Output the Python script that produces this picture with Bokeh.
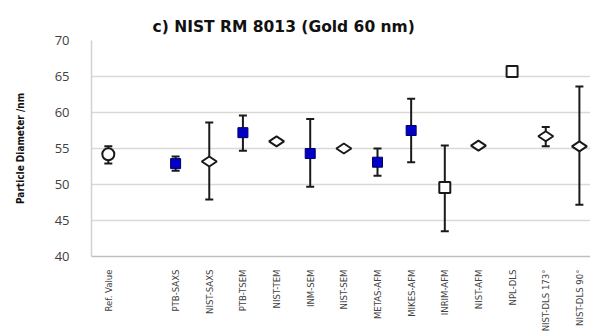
import math
from bokeh.plotting import figure
from bokeh.models import ColumnDataSource, Whisker, TeeHead, FixedTicker, Range1d
from bokeh.embed import file_html
from bokeh.resources import INLINE

categories = ["Ref. Value", "", "PTB-SAXS", "NIST-SAXS", "PTB-TSEM", "NIST-TEM", "INM-SEM",
              "NIST-SEM", "METAS-AFM", "MIKES-AFM", "INRIM-AFM", "NIST-AFM", "NPL-DLS",
              "NIST-DLS 173°", "NIST-DLS 90°"]
values = [54.2, None, 52.9, 53.2, 57.2, 56.0, 54.3, 55.0, 53.1, 57.5, 49.6, 55.4, 65.7, 56.7, 55.3]
lower = [52.9, None, 51.9, 47.9, 54.7, None, 49.7, None, 51.2, 53.1, 43.5, None, None, 55.3, 47.2]
upper = [55.3, None, 53.9, 58.6, 59.6, None, 59.1, None, 55.0, 61.9, 55.4, None, None, 58.0, 63.6]

ref_series = ["Ref. Value"]
blue_square_series = ["PTB-SAXS", "PTB-TSEM", "INM-SEM", "METAS-AFM", "MIKES-AFM"]
diamond_series = ["NIST-SAXS", "NIST-TEM", "NIST-SEM", "NIST-AFM", "NIST-DLS 173°", "NIST-DLS 90°"]
open_square_series = ["INRIM-AFM", "NPL-DLS"]

y_ticks = [40, 45, 50, 55, 60, 65, 70]

def pts(names):
    xs, ys = [], []
    for n in names:
        i = categories.index(n)
        xs.append(i)
        ys.append(values[i])
    return dict(x=xs, y=ys)

NARROW = "DejaVu Sans Condensed"

p = figure(width=590, height=332, frame_width=499, frame_height=216,
           output_backend="svg", toolbar_location=None,
           x_range=Range1d(-0.5, 14.33), y_range=Range1d(40, 70),
           min_border_left=91, min_border_right=0, min_border_top=40, min_border_bottom=76)

p.title.text = "c) NIST RM 8013 (Gold 60 nm)"
p.title.text_font = "DejaVu Sans"
p.title.text_font_style = "bold"
p.title.text_font_size = "15.5px"
p.title.align = "left"
p.title.offset = 61
p.title.text_color = "#111111"

p.outline_line_color = None
p.background_fill_color = "white"
p.border_fill_color = "white"

# error bars
ex, el, eu = [], [], []
for i, (lo, up) in enumerate(zip(lower, upper)):
    if lo is not None and up is not None:
        ex.append(i); el.append(lo); eu.append(up)
esrc = ColumnDataSource(dict(x=ex, lower=el, upper=eu))
w = Whisker(base="x", lower="lower", upper="upper", source=esrc,
            line_color="#1a1a1a", line_width=2,
            upper_head=TeeHead(size=8, line_color="#1a1a1a", line_width=2),
            lower_head=TeeHead(size=8, line_color="#1a1a1a", line_width=2))
p.add_layout(w)

p.scatter("x", "y", source=ColumnDataSource(pts(ref_series)), marker="circle", size=12,
          fill_color="white", line_color="#1a1a1a", line_width=2)
p.scatter("x", "y", source=ColumnDataSource(pts(blue_square_series)), marker="square", size=10,
          fill_color="#0000c8", line_color="#000060", line_width=1)
p.scatter("x", "y", source=ColumnDataSource(pts(diamond_series)), marker="diamond", size=15,
          angle=math.pi / 2, fill_color="white", line_color="#1a1a1a", line_width=2)
p.scatter("x", "y", source=ColumnDataSource(pts(open_square_series)), marker="square", size=11,
          fill_color="white", line_color="#1a1a1a", line_width=2)

# axes
p.yaxis.ticker = FixedTicker(ticks=y_ticks)
p.yaxis.axis_label = "Particle Diameter /nm"
p.yaxis.axis_label_text_font = NARROW
p.yaxis.axis_label_text_font_style = "bold"
p.yaxis.axis_label_text_font_size = "10px"
p.yaxis.axis_label_text_color = "#111111"
p.yaxis.axis_label_standoff = 26
p.yaxis.major_label_text_font = "Open Sans"
p.yaxis.major_label_text_font_size = "13px"
p.yaxis.major_label_text_color = "#404040"
p.yaxis.major_label_standoff = 16
p.yaxis.major_tick_line_color = None
p.yaxis.minor_tick_line_color = None
p.yaxis.axis_line_color = "#d0d0d0"
p.yaxis.axis_line_width = 1.5

p.xaxis.ticker = FixedTicker(ticks=list(range(len(categories))))
p.xaxis.major_label_overrides = {i: c for i, c in enumerate(categories)}
p.xaxis.major_label_orientation = math.pi / 2
p.xaxis.major_label_text_font = NARROW
p.xaxis.major_label_text_font_size = "9.5px"
p.xaxis.major_label_text_color = "#404040"
p.xaxis.major_label_standoff = 7
p.xaxis.major_tick_line_color = None
p.xaxis.minor_tick_line_color = None
p.xaxis.axis_line_color = "#bfbfbf"
p.xaxis.axis_line_width = 1.5

p.xgrid.grid_line_color = None
p.ygrid.grid_line_color = "#d9d9d9"
p.ygrid.grid_line_width = 1.5

open("out.html", "w").write(file_html(p, INLINE))
